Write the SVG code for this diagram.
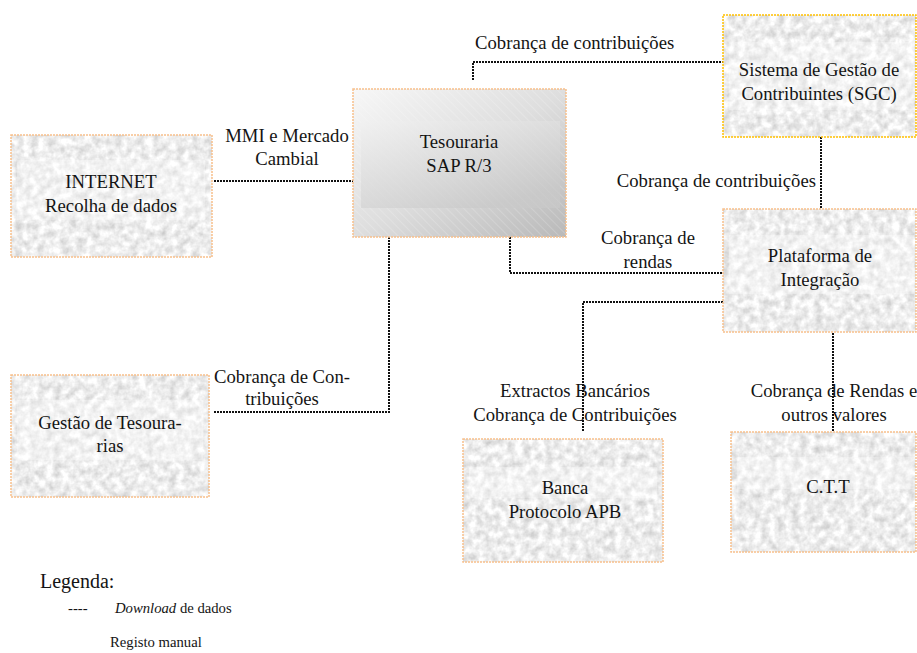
<svg xmlns="http://www.w3.org/2000/svg" width="917" height="653" viewBox="0 0 917 653">
<defs>
  <filter id="marble" x="0" y="0" width="1" height="1" color-interpolation-filters="sRGB">
    <feTurbulence type="fractalNoise" baseFrequency="0.13" numOctaves="3" seed="4" result="n"/>
    <feColorMatrix in="n" type="matrix" values="0.32 0 0 0 0.77  0.32 0 0 0 0.77  0.32 0 0 0 0.77  0 0 0 0 1" result="g"/>
    <feComposite in="g" in2="SourceGraphic" operator="in"/>
  </filter>
  <linearGradient id="tesGrad" x1="0" y1="0" x2="1" y2="1">
    <stop offset="0" stop-color="#f7f7f7"/>
    <stop offset="0.5" stop-color="#dedede"/>
    <stop offset="1" stop-color="#b9b9b9"/>
  </linearGradient>
  <linearGradient id="tesInner" x1="0" y1="0" x2="0.6" y2="1">
    <stop offset="0" stop-color="#f1f1f1"/>
    <stop offset="1" stop-color="#c9c9c9"/>
  </linearGradient>
  <pattern id="hatch" width="6" height="6" patternUnits="userSpaceOnUse" patternTransform="rotate(-45)">
    <line x1="0" y1="0" x2="0" y2="6" stroke="#ffffff" stroke-width="1" stroke-opacity="0.35"/>
  </pattern>
</defs>
<style>
  .tex { fill: #e8e8e8; filter: url(#marble); }
  .band { fill: #ffffff; fill-opacity: 0.3; }
  .bord { fill: none; stroke: #f8c08c; stroke-width: 1.5; stroke-dasharray: 2 1; }
  .bordY { fill: none; stroke: #ffc000; stroke-width: 1.5; stroke-dasharray: 2 1; }
  text { font-family: "Liberation Serif", "DejaVu Serif", serif; fill: #141414; }
  .t { font-size: 18.7px; }
  .c { text-anchor: middle; }
  .conn { fill: none; stroke: #111111; stroke-width: 2; stroke-dasharray: 2 1; }
  .leg { font-size: 14.7px; }
</style>

<g id="connectors">
  <path class="conn" d="M214,181 H353"/>
  <path class="conn" d="M473,80 V62 H723"/>
  <path class="conn" d="M821,137 V209"/>
  <path class="conn" d="M510,228 V273 H723"/>
  <path class="conn" d="M723,302 H583 V432"/>
  <path class="conn" d="M833,321 V432"/>
  <path class="conn" d="M214,412 H389 V228"/>
  <text class="t c" x="287" y="142">MMI e Mercado</text>
  <text class="t c" x="287" y="165">Cambial</text>
  <text class="t" x="475" y="49">Cobrança de contribuições</text>
  <text class="t" x="816" y="187" text-anchor="end">Cobrança de contribuições</text>
  <text class="t c" x="648" y="244">Cobrança de</text>
  <text class="t c" x="648" y="268">rendas</text>
  <text class="t c" x="282" y="383">Cobrança de Con-</text>
  <text class="t c" x="282" y="405">tribuições</text>
  <text class="t c" x="575" y="397">Extractos Bancários</text>
  <text class="t c" x="575" y="421">Cobrança de Contribuições</text>
  <text class="t c" x="834" y="397">Cobrança de Rendas e</text>
  <text class="t c" x="834" y="421">outros valores</text>
</g>

<g id="internet">
  <rect class="tex" x="11" y="135" width="201" height="122"/>
  <rect class="band" x="17" y="160" width="188" height="60"/>
  <rect class="bord" x="11" y="135" width="201" height="122"/>
  <text class="t c" x="111" y="188">INTERNET</text>
  <text class="t c" x="111" y="212">Recolha de dados</text>
</g>

<g id="tesouraria">
  <rect x="353" y="89" width="213" height="148" fill="url(#tesGrad)"/>
  <rect x="353" y="89" width="213" height="148" fill="url(#hatch)"/>
  <rect x="361" y="121" width="199" height="87" fill="url(#tesInner)" fill-opacity="0.7"/>
  <rect class="bord" x="353" y="89" width="213" height="148"/>
  <text class="t c" x="459" y="148">Tesouraria</text>
  <text class="t c" x="459" y="172">SAP R/3</text>
</g>

<g id="sgc">
  <rect class="tex" x="723" y="15" width="193" height="122"/>
  <rect class="band" x="729" y="42" width="185" height="68"/>
  <rect class="bordY" x="723" y="15" width="193" height="122"/>
  <text class="t c" x="819" y="76">Sistema de Gestão de</text>
  <text class="t c" x="819" y="100">Contribuintes (SGC)</text>
</g>

<g id="plataforma">
  <rect class="tex" x="723" y="209" width="193" height="123"/>
  <rect class="band" x="729" y="235" width="185" height="59"/>
  <rect class="bord" x="723" y="209" width="193" height="123"/>
  <text class="t c" x="820" y="262">Plataforma de</text>
  <text class="t c" x="820" y="286">Integração</text>
</g>

<g id="gestao">
  <rect class="tex" x="11" y="375" width="198" height="122"/>
  <rect class="band" x="17" y="400" width="186" height="60"/>
  <rect class="bord" x="11" y="375" width="198" height="122"/>
  <text class="t c" x="110" y="429">Gestão de Tesoura-</text>
  <text class="t c" x="110" y="452">rias</text>
</g>

<g id="banca">
  <rect class="tex" x="463" y="439" width="200" height="123"/>
  <rect class="band" x="469" y="467" width="188" height="31"/>
  <rect class="bord" x="463" y="439" width="200" height="123"/>
  <text class="t c" x="565" y="494">Banca</text>
  <text class="t c" x="565" y="518">Protocolo APB</text>
</g>

<g id="ctt">
  <rect class="tex" x="731" y="432" width="185" height="120"/>
  <rect class="band" x="737" y="457" width="177" height="32"/>
  <rect class="bord" x="731" y="432" width="185" height="120"/>
  <text class="t c" x="828" y="493">C.T.T</text>
</g>

<g id="legend">
  <text x="40" y="588" font-size="20">Legenda:</text>
  <text class="leg" x="68" y="613">----</text>
  <text class="leg" x="115" y="613"><tspan font-style="italic">Download</tspan> de dados</text>
  <text class="leg" x="110" y="647">Registo manual</text>
</g>
</svg>
